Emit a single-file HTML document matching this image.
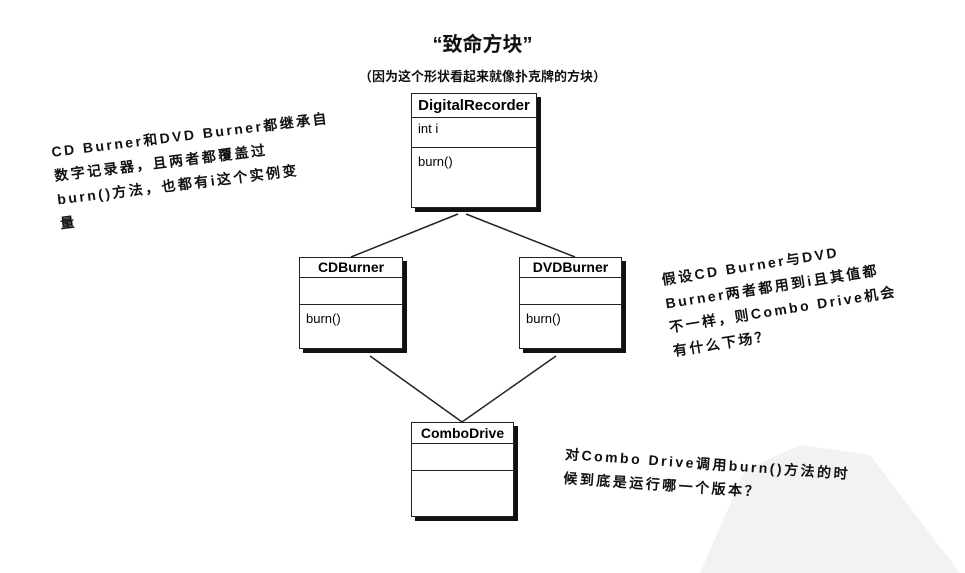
<!DOCTYPE html>
<html><head><meta charset="utf-8">
<style>
body{margin:0;width:965px;height:573px;background:#fff;position:relative;overflow:hidden;font-family:"Liberation Sans","Noto Sans CJK SC",sans-serif;}
.t{position:absolute;color:#111;}
.box{position:absolute;background:#fff;border:1.5px solid #222;box-shadow:4px 4px 0 #111;box-sizing:border-box;}
.box .h{font-weight:bold;font-size:14px;text-align:center;border-bottom:1.5px solid #222;}
.box .a{border-bottom:1.5px solid #222;font-size:13px;padding-left:6px;box-sizing:border-box;}
.box .m{font-size:13px;padding-left:6px;padding-top:6px;}
.note{position:absolute;font-size:14px;font-weight:bold;line-height:24px;letter-spacing:2.5px;color:#111;transform-origin:0 0;font-family:"Liberation Sans","WenQuanYi Zen Hei",sans-serif;white-space:nowrap;}
</style></head><body>
<svg style="position:absolute;left:0;top:0" width="965" height="573">
<path d="M700 573 L745 470 L800 445 L870 455 L960 573 Z" fill="#f2f2f2"/>
<g stroke="#222" stroke-width="1.5" fill="none">
<line x1="351" y1="257" x2="458" y2="214"/>
<line x1="575" y1="257" x2="466" y2="214"/>
<line x1="370" y1="356" x2="462" y2="422"/>
<line x1="556" y1="356" x2="462" y2="422"/>
</g>
</svg>
<div class="t" style="left:0;width:965px;top:28px;text-align:center;font-weight:bold;font-size:20px;">“致命方块”</div>
<div class="t" style="left:0;width:965px;top:66px;text-align:center;font-weight:bold;font-size:13px;">（因为这个形状看起来就像扑克牌的方块）</div>

<div class="box" style="left:411px;top:93px;width:126px;height:115px;">
<div class="h" style="height:23px;line-height:23px;font-size:15px">DigitalRecorder</div>
<div class="a" style="height:30px;line-height:22px">int i</div>
<div class="m">burn()</div></div>

<div class="box" style="left:299px;top:257px;width:104px;height:92px;">
<div class="h" style="height:19px;line-height:19px">CDBurner</div>
<div class="a" style="height:27px"></div>
<div class="m">burn()</div></div>

<div class="box" style="left:519px;top:257px;width:103px;height:92px;">
<div class="h" style="height:19px;line-height:19px">DVDBurner</div>
<div class="a" style="height:27px"></div>
<div class="m">burn()</div></div>

<div class="box" style="left:411px;top:422px;width:103px;height:95px;">
<div class="h" style="height:20px;line-height:20px">ComboDrive</div>
<div class="a" style="height:27px"></div></div>

<div class="note" style="left:50px;top:140px;transform:rotate(-7deg)">CD Burner和DVD Burner都继承自<br>数字记录器，且两者都覆盖过<br>burn()方法，也都有i这个实例变<br>量</div>
<div class="note" style="left:660px;top:268px;transform:rotate(-9deg)">假设CD Burner与DVD<br>Burner两者都用到i且其值都<br>不一样，则Combo Drive机会<br>有什么下场？</div>
<div class="note" style="left:566px;top:442px;transform:rotate(4deg)">对Combo Drive调用burn()方法的时<br>候到底是运行哪一个版本？</div>
</body></html>
